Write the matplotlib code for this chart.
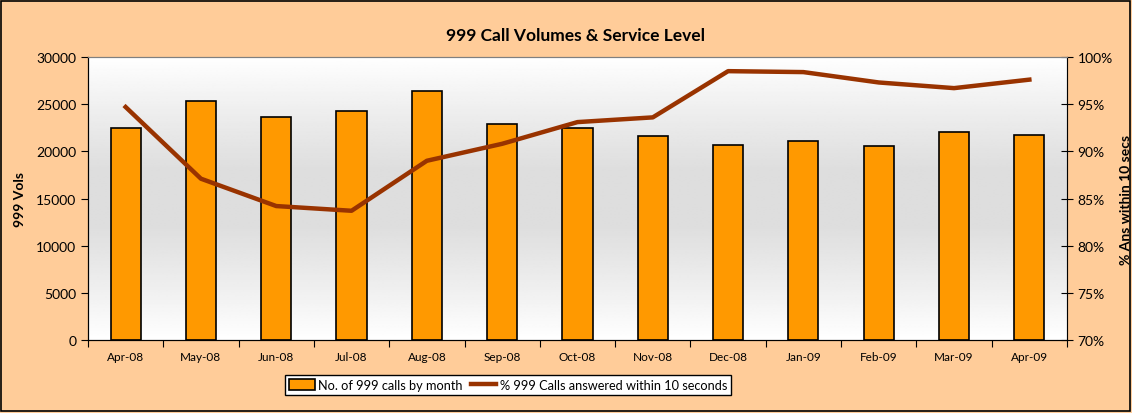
import matplotlib
matplotlib.use("Agg")
import matplotlib.pyplot as plt
import numpy as np
from matplotlib.patches import Patch, Rectangle
from matplotlib.lines import Line2D

months = ["Apr-08", "May-08", "Jun-08", "Jul-08", "Aug-08", "Sep-08", "Oct-08",
          "Nov-08", "Dec-08", "Jan-09", "Feb-09", "Mar-09", "Apr-09"]
calls = [22450, 25300, 23650, 24300, 26400, 22900, 22500,
         21650, 20650, 21100, 20550, 22050, 21700]
pct_10s = [94.7, 87.1, 84.2, 83.7, 89.0, 90.8, 93.1,
           93.6, 98.5, 98.4, 97.3, 96.7, 97.6]

plt.rcParams['font.family'] = ['Lato', 'DejaVu Sans']

fig = plt.figure(figsize=(11.32, 4.14), dpi=100)
fig.patch.set_facecolor('#FFCC99')
fig.patches.append(Rectangle((0.001, 0.006), 0.997, 0.99, transform=fig.transFigure,
                             fill=False, edgecolor='black', linewidth=1.2))

ax = fig.add_axes([0.0777, 0.1763, 0.8649, 0.6836])
x = np.arange(len(months))

# gradient background
grad = np.array([1.0, 0.93, 0.87, 0.87, 0.93, 1.0])
ax.imshow(np.interp(np.linspace(0, 5, 200), np.arange(6), grad)[:, None] * np.ones((1, 2)),
          extent=[0, 1, 0, 1], transform=ax.transAxes, cmap='gray', vmin=0, vmax=1,
          aspect='auto', zorder=0, interpolation='bilinear')

ax.bar(x, calls, width=0.4, color='#FF9900', edgecolor='black', linewidth=1.2, zorder=2)
ax.set_xlim(-0.5, len(months) - 0.5)
ax.set_ylim(0, 30000)
ax.set_yticks(np.arange(0, 30001, 5000))
ax.tick_params(axis='y', direction='out', length=5, labelsize=10)
ax.set_xticks(np.arange(-0.5, len(months), 1.0))
ax.set_xticklabels([])
ax.tick_params(axis='x', which='major', direction='out', length=5)
ax.set_xticks(x, minor=True)
ax.set_xticklabels(months, minor=True, fontsize=8.5)
ax.tick_params(axis='x', which='minor', length=0, pad=8)
ax.set_ylabel("999 Vols", fontsize=10, fontweight='bold')
ax.yaxis.set_label_coords(-0.063, 0.5)

for s in ['top', 'right']:
    ax.spines[s].set_color('#808080')
for s in ['left', 'bottom']:
    ax.spines[s].set_color('black')

ax2 = ax.twinx()
ax2.plot(x, pct_10s, color='#993300', linewidth=3.2, zorder=3, solid_joinstyle='round')
ax2.set_ylim(70, 100)
ax2.set_yticks(np.arange(70, 101, 5))
ax2.set_yticklabels([f"{v}%" for v in range(70, 101, 5)])
ax2.tick_params(axis='y', direction='inout', length=8, labelsize=10)
ax2.set_ylabel("% Ans within 10 secs", fontsize=10, fontweight='bold', rotation=90)
ax2.yaxis.set_label_coords(1.054, 0.5)
ax2.spines['right'].set_color('black')
ax2.spines['top'].set_color('#808080')

fig.text(0.5085, 0.912, "999 Call Volumes & Service Level", ha='center', va='center',
         fontsize=12.5, fontweight='bold')

handles = [Patch(facecolor='#FF9900', edgecolor='black', linewidth=1.2),
           Line2D([0], [0], color='#993300', linewidth=3.2)]
leg = fig.legend(handles, ["No. of 999 calls by month", "% 999 Calls answered within 10 seconds"],
                 loc='center', bbox_to_anchor=(0.449, 0.068), ncol=2, fontsize=9.2,
                 frameon=True, fancybox=False, edgecolor='black', framealpha=1,
                 handlelength=2.0, handleheight=0.9, handletextpad=0.3, columnspacing=0.6,
                 borderpad=0.3, borderaxespad=0)
leg.get_frame().set_linewidth(1.0)

fig.savefig("out.png", dpi=100, facecolor=fig.get_facecolor())
